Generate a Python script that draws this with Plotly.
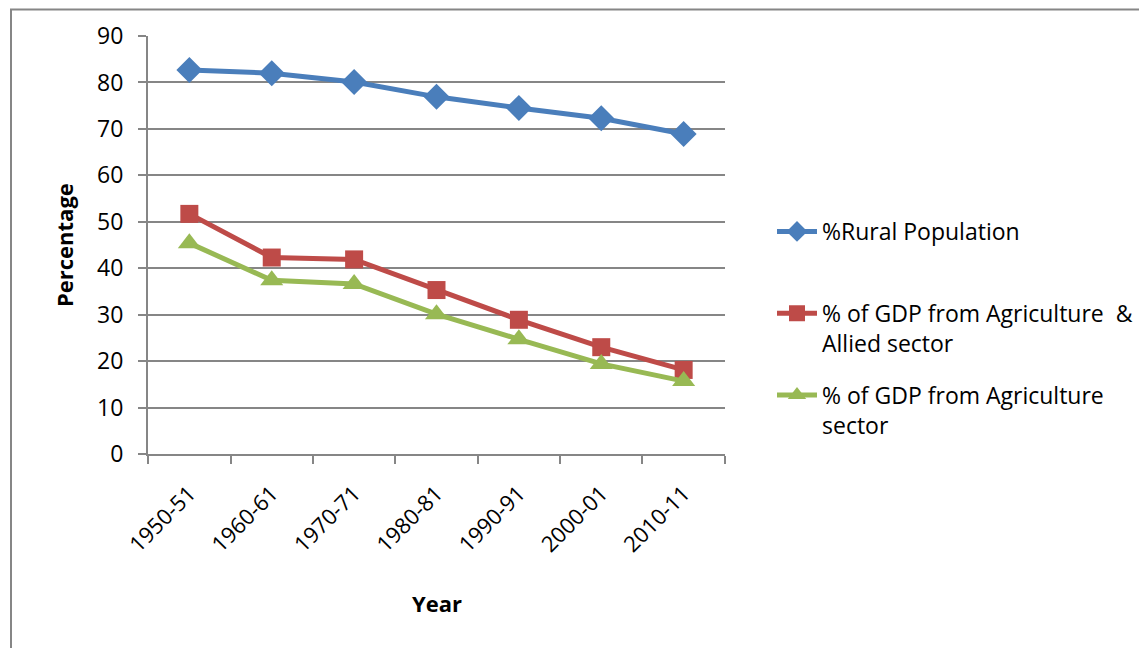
import plotly.graph_objects as go

years = ["1950-51", "1960-61", "1970-71", "1980-81", "1990-91", "2000-01", "2010-11"]
rural_population = [82.7, 82.0, 80.1, 76.9, 74.5, 72.3, 68.9]
gdp_agri_allied = [51.7, 42.3, 41.9, 35.3, 28.9, 23.0, 18.1]
gdp_agri = [45.4, 37.4, 36.6, 30.1, 24.7, 19.4, 15.7]

# page body has an 8px margin, so the figure is drawn 8px smaller
OFF = 8
W, H = 1147 - OFF, 648 - OFF
PL, PR, PT, PB = 148, 725, 36, 454  # plot area in screen pixels
L, R, T, B = PL - OFF, 1147 - PR, PT - OFF, 648 - PB
pw, ph = PR - PL, PB - PT

FONT = "Open Sans"
GRAY = "#868686"


def px_x(p):
    return (p - PL) / pw


def px_y(p):
    return (PB - p) / ph


fig = go.Figure()
fig.add_trace(go.Scatter(x=years, y=rural_population, mode="lines+markers",
                         name="%Rural Population<br> ", legendgroup="a",
                         line=dict(color="#4A7EBB", width=5),
                         marker=dict(symbol="diamond", size=20, color="#4A7EBB")))
fig.add_trace(go.Scatter(x=years, y=gdp_agri_allied, mode="lines+markers",
                         name="% of GDP from Agriculture  &<br>Allied sector", legendgroup="b",
                         line=dict(color="#BE4B48", width=5),
                         marker=dict(symbol="square", size=18, color="#BE4B48")))
fig.add_trace(go.Scatter(x=years, y=gdp_agri, mode="lines+markers",
                         name="% of GDP from Agriculture<br>sector", legendgroup="c",
                         line=dict(color="#98B954", width=5),
                         marker=dict(symbol="triangle-up", size=20, color="#98B954")))

fig.update_layout(
    width=W, height=H,
    margin=dict(l=L, r=R, t=T, b=B, autoexpand=False),
    paper_bgcolor="white", plot_bgcolor="white",
    font=dict(family=FONT, size=23, color="black"),
    showlegend=True,
    legend=dict(x=px_x(772), y=px_y(210), xanchor="left", yanchor="top",
                font=dict(family=FONT, size=23, color="black"),
                valign="top", tracegroupgap=19, itemwidth=40,
                bgcolor="rgba(0,0,0,0)"),
    xaxis=dict(type="category", showgrid=False, showline=True, linecolor=GRAY, linewidth=2,
               ticks="outside", tickson="boundaries", ticklen=8, tickcolor=GRAY, tickwidth=2,
               tickangle=-45, ticklabelstandoff=16, tickfont=dict(family=FONT, size=22)),
    yaxis=dict(range=[0, 90], dtick=10, showgrid=True, gridcolor=GRAY, gridwidth=1.5,
               showline=True, linecolor=GRAY, linewidth=2, zeroline=False,
               ticks="outside", ticklen=8, tickcolor=GRAY, tickwidth=2,
               ticklabelstandoff=10, tickfont=dict(family=FONT, size=23)),
    annotations=[
        dict(text="<b>Year</b>", xref="paper", yref="paper", x=px_x(437), y=px_y(603),
             xanchor="center", yanchor="middle", showarrow=False,
             font=dict(family=FONT, size=22)),
        dict(text="<b>Percentage</b>", xref="paper", yref="paper", x=px_x(64), y=px_y(245),
             xanchor="center", yanchor="middle", showarrow=False, textangle=-90,
             font=dict(family=FONT, size=22)),
    ],
    shapes=[dict(type="rect", xref="paper", yref="paper",
                 x0=px_x(11), x1=px_x(1170), y0=px_y(670), y1=px_y(9.5),
                 line=dict(color=GRAY, width=2), fillcolor="rgba(0,0,0,0)", layer="below")],
)

fig.write_html("out.html")
